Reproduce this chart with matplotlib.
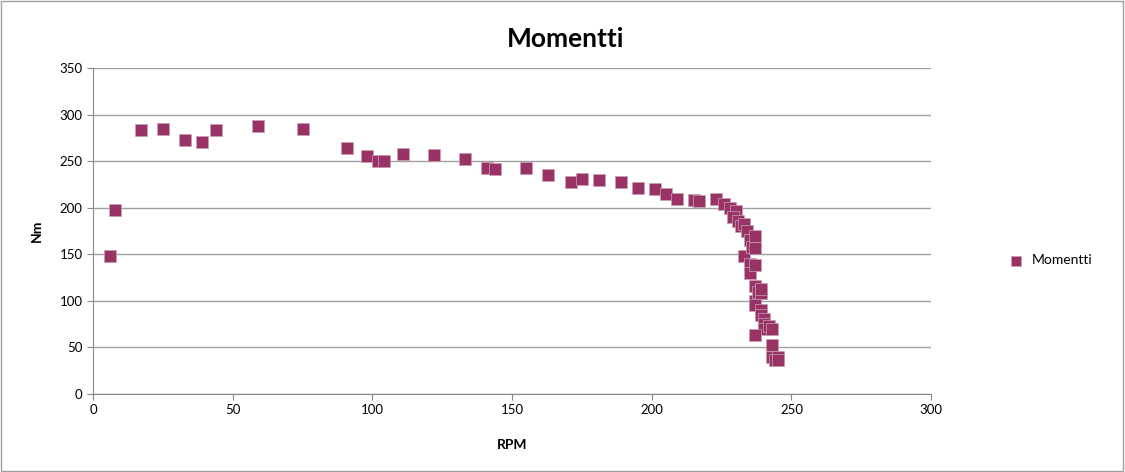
import numpy as np
import matplotlib.pyplot as plt

plt.rcParams['font.family'] = ['Lato', 'DejaVu Sans']

# measured torque curve (RPM, Nm)
rpm = [6, 8, 17, 25, 33, 39, 44, 59, 75, 91, 98, 102, 104, 111, 122, 133,
       141, 144, 155, 163, 171, 175, 181, 189, 195, 201, 205, 209, 215, 217,
       223, 226, 228, 230, 229, 231, 232, 233, 234, 233, 235, 236, 237, 237,
       235, 235, 237, 237, 237, 237, 238, 239, 239, 239, 239, 240, 240, 240,
       237, 242, 243, 243, 243, 244, 245, 245]
nm = [148, 197, 283, 284, 273, 271, 283, 288, 284, 264, 255, 250, 250, 258, 257, 252,
      243, 242, 243, 235, 228, 231, 230, 228, 221, 220, 215, 209, 208, 207,
      209, 204, 200, 196, 190, 186, 180, 183, 175, 148, 165, 158, 170, 157,
      140, 130, 139, 116, 100, 95, 110, 108, 113, 90, 85, 80, 75, 70,
      63, 73, 70, 53, 40, 37, 40, 37]

col = '#993366'

fig = plt.figure(figsize=(11.25, 4.72), dpi=100)
ax = fig.add_axes([0.0827, 0.1653, 0.745, 0.6907])

ax.scatter(rpm, nm, marker='s', s=85, color=col, edgecolors='#c8a0b4',
           linewidths=0.5, zorder=3, label='Momentti')

ax.set_xlim(0, 300)
ax.set_ylim(0, 350)
ax.set_xticks(np.arange(0, 301, 50))
ax.set_yticks(np.arange(0, 351, 50))
ax.grid(axis='y', color='#a0a0a0', linewidth=1)
ax.set_axisbelow(True)
for s in ['top', 'right']:
    ax.spines[s].set_visible(False)
for s in ['left', 'bottom']:
    ax.spines[s].set_color('#888888')
ax.tick_params(colors='#888888', labelcolor='black', labelsize=9.5, length=4)

# title is centred on the whole chart, not the plot area
fig.suptitle('Momentti', x=0.503, y=0.943, fontsize=19, fontweight='bold')
ax.set_xlabel('RPM', fontsize=10, fontweight='bold', labelpad=16)
ax.set_ylabel('Nm', fontsize=10, fontweight='bold', labelpad=12)

ax.legend(loc='center left', bbox_to_anchor=(1.07, 0.41), frameon=False,
          fontsize=10, handletextpad=0.1, markerscale=0.8)

# chart outline
fig.patches.append(plt.Rectangle((0.001, 0.002), 0.997, 0.995, transform=fig.transFigure,
                                 fill=False, edgecolor='#a0a0a0', linewidth=1))

fig.savefig('out.png', dpi=100)
